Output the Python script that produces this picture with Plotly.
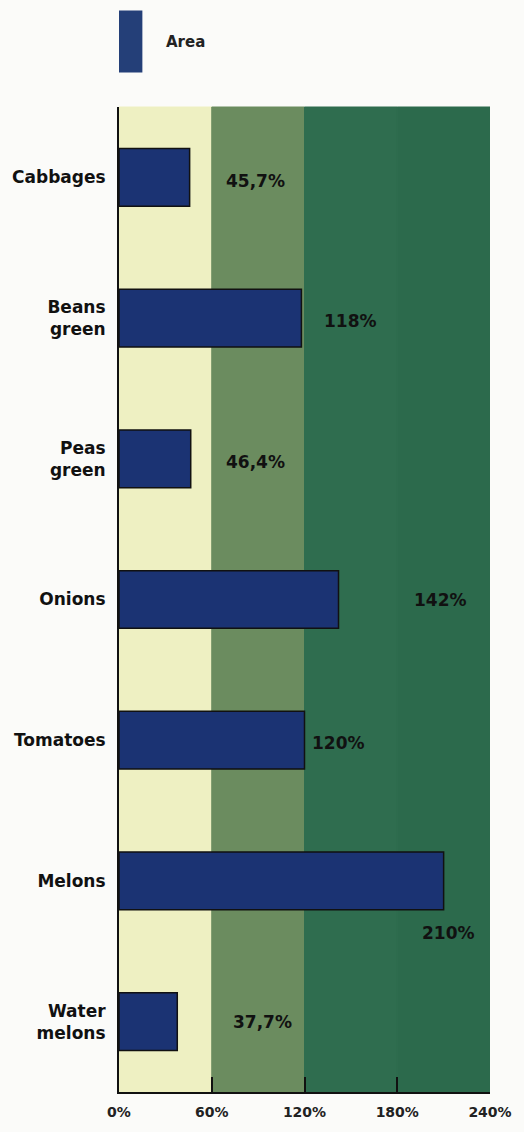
import plotly.graph_objects as go

categories = ["Cabbages", "Beans<br>green", "Peas<br>green", "Onions", "Tomatoes", "Melons", "Water<br>melons"]
area_pct = [45.7, 118, 46.4, 142, 120, 210, 37.7]
x_ticks = [0, 60, 120, 180, 240]
x_tick_labels = ["0%", "60%", "120%", "180%", "240%"]
series_name = "Area"

# label placement (layout, not data)
label_x = [88, 150, 88, 208, 142, 213, 93]
label_yshift = [-4, -3, -3, 0, -3, -52, 0]

band_colors = ["#eef0c2", "#6b8c5f", "#2f6d4f", "#2c6a4c"]
bar_color = "#1b3373"
font_family = "DejaVu Sans"

fig = go.Figure()
fig.add_trace(go.Bar(
    y=categories, x=area_pct, orientation="h", name=series_name,
    marker=dict(color=bar_color, line=dict(color="#111111", width=1.5)),
    width=0.41, showlegend=False, hoverinfo="skip",
))

shapes = []
for i, c in enumerate(band_colors):
    shapes.append(dict(type="rect", xref="x", yref="paper", x0=x_ticks[i], x1=x_ticks[i + 1],
                       y0=0, y1=1, fillcolor=c, line=dict(width=1, color=c), layer="below"))
# legend swatch
shapes.append(dict(type="rect", xref="paper", yref="paper", x0=0.0, x1=0.063, y0=1.035, y1=1.098,
                   fillcolor="#243f78", line=dict(width=0)))

annotations = []
for cat, v, lx, ys in zip(categories, area_pct, label_x, label_yshift):
    txt = (f"{v:g}".replace(".", ",")) + "%"
    annotations.append(dict(x=lx, y=cat, xref="x", yref="y", text=txt, showarrow=False,
                            yshift=ys, font=dict(family=font_family, size=17, color="#111111", weight="bold")))
annotations.append(dict(x=0.121, y=1.066, xref="paper", yref="paper", text=series_name, showarrow=False,
                        xanchor="left", yanchor="middle",
                        font=dict(family=font_family, size=15, color="#222222", weight="bold")))

fig.update_layout(
    width=524, height=1132,
    margin=dict(l=118, r=34, t=107, b=37),
    paper_bgcolor="#fbfbf9", plot_bgcolor="#fbfbf9",
    shapes=shapes, annotations=annotations,
    font=dict(family=font_family, color="#111111"),
    xaxis=dict(range=[0, 240], tickvals=x_ticks, ticktext=x_tick_labels,
               ticks="inside", ticklen=15, tickwidth=2, tickcolor="#111111",
               showline=True, linecolor="#111111", linewidth=2, showgrid=False, zeroline=False,
               ticklabelstandoff=6,
               tickfont=dict(family=font_family, size=14, color="#222222", weight="bold"),
               fixedrange=True),
    yaxis=dict(categoryorder="array", categoryarray=categories, autorange="reversed",
               showline=True, linecolor="#111111", linewidth=2, showgrid=False, zeroline=False,
               ticks="", ticklabelstandoff=8,
               tickfont=dict(family=font_family, size=17, color="#111111", weight="bold"),
               fixedrange=True),
    bargap=0.59,
)

fig.write_html("out.html")
